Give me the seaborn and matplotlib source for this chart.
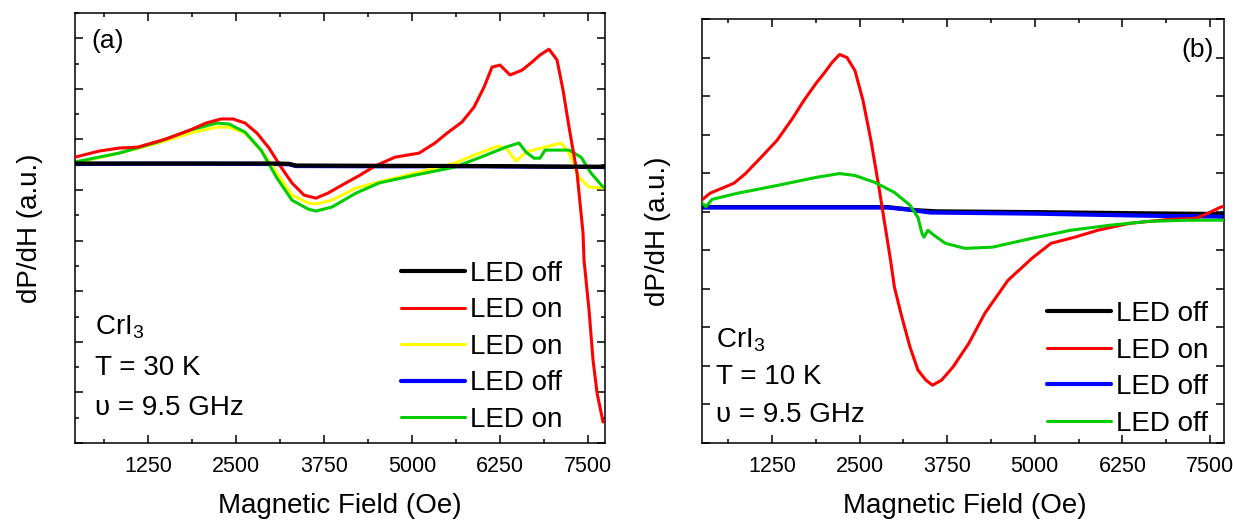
import numpy as np
import pandas as pd
import matplotlib
matplotlib.use("Agg")
import matplotlib.pyplot as plt
from matplotlib.ticker import MultipleLocator
import seaborn as sns

# ---------------- data: panel (a), T = 30 K ----------------
a_black_x = [213, 1000, 2000, 3000, 3250, 3350, 4500, 6000, 7000, 7741]
a_black_y = [0.05, 0.05, 0.05, 0.05, 0.04, -0.03, -0.04, -0.05, -0.07, -0.08]
a_blue_x = [213, 1000, 2000, 3000, 3250, 3350, 4500, 6000, 7000, 7741]
a_blue_y = [0.03, 0.04, 0.04, 0.03, 0.02, -0.05, -0.06, -0.06, -0.08, -0.09]

a_red_x = [213, 554, 838, 1108, 1506, 1847, 2074, 2287, 2457, 2628, 2798, 2969,
           3139, 3295, 3466, 3636, 3807, 4034, 4261, 4474, 4758, 5099, 5327,
           5497, 5710, 5881, 6023, 6136, 6250, 6392, 6562, 6705, 6818, 6946,
           7060, 7145, 7230, 7344, 7429, 7443, 7514, 7571, 7628, 7713]
a_red_y = [0.30, 0.54, 0.66, 0.70, 1.02, 1.37, 1.65, 1.81, 1.81, 1.65, 1.25, 0.66,
           -0.09, -0.72, -1.20, -1.32, -1.12, -0.76, -0.41, -0.05, 0.30, 0.46, 0.86,
           1.25, 1.69, 2.28, 3.07, 3.86, 3.94, 3.55, 3.74, 4.06, 4.34, 4.57,
           4.14, 2.95, 1.49, -0.33, -2.70, -3.77, -5.74, -7.72, -9.02, -10.17]

a_yellow_x = [213, 838, 1392, 1847, 2230, 2401, 2628, 2855, 3082, 3295, 3523, 3636,
              3864, 4205, 4531, 5043, 5611, 5881, 6222, 6335, 6477, 6619, 6889,
              7117, 7230, 7372, 7514, 7713]
a_yellow_y = [0.07, 0.46, 0.86, 1.25, 1.49, 1.49, 1.25, 0.58, -0.33, -1.20, -1.51, -1.55,
              -1.40, -0.92, -0.68, -0.33, 0.07, 0.38, 0.74, 0.66, 0.15, 0.50, 0.70,
              0.86, 0.46, -0.49, -0.88, -0.92]

a_green_x = [213, 838, 1392, 1847, 2230, 2401, 2628, 2855, 3082, 3295, 3523, 3636,
             3864, 4205, 4531, 5043, 5611, 6051, 6335, 6520, 6619, 6733, 6818,
             6889, 7230, 7401, 7543, 7713]
a_green_y = [0.11, 0.46, 0.90, 1.37, 1.65, 1.61, 1.29, 0.58, -0.53, -1.40, -1.75, -1.83,
             -1.67, -1.12, -0.72, -0.41, -0.09, 0.38, 0.70, 0.86, 0.50, 0.26, 0.26,
             0.58, 0.58, 0.30, -0.33, -0.88]

# ---------------- data: panel (b), T = 10 K ----------------
b_black_x = [246, 1500, 2900, 3300, 3600, 5000, 6500, 7727]
b_black_y = [0.12, 0.12, 0.12, 0.04, 0.01, -0.01, -0.04, -0.06]
b_blue_x = [246, 1500, 2900, 3219, 3500, 5000, 6500, 7727]
b_blue_y = [0.11, 0.11, 0.11, 0.05, -0.02, -0.05, -0.10, -0.13]

b_red_x = [246, 366, 537, 708, 872, 1093, 1321, 1542, 1706, 1878, 1992, 2106, 2214,
           2320, 2434, 2548, 2662, 2776, 2942, 2997, 3104, 3219, 3333, 3447, 3540,
           3669, 3832, 4060, 4289, 4617, 4959, 5230, 5572, 5900, 6357, 6913, 7299,
           7470, 7641, 7727]
b_red_y = [0.30, 0.48, 0.61, 0.74, 0.99, 1.41, 1.85, 2.42, 2.89, 3.33, 3.59, 3.87, 4.08,
           4.00, 3.66, 2.89, 1.85, 0.63, -1.26, -1.96, -2.74, -3.51, -4.11, -4.37, -4.50,
           -4.37, -4.03, -3.41, -2.63, -1.78, -1.21, -0.82, -0.66, -0.48, -0.30, -0.20, -0.17,
           -0.04, 0.11, 0.16]

b_green_x = [246, 308, 394, 759, 1321, 1878, 2214, 2434, 2719, 2997, 3219, 3333, 3390,
             3418, 3475, 3561, 3725, 4003, 4395, 4959, 5515, 6072, 6628, 7199, 7727]
b_green_y = [0.24, 0.13, 0.32, 0.48, 0.68, 0.89, 0.99, 0.94, 0.76, 0.50, 0.17, -0.15, -0.56,
             -0.66, -0.48, -0.61, -0.82, -0.95, -0.92, -0.69, -0.48, -0.35, -0.25, -0.22, -0.22]

x_ticks = [1250, 2500, 3750, 5000, 6250, 7500]
labels_a = ["LED off", "LED on", "LED on", "LED off", "LED on"]
labels_b = ["LED off", "LED on", "LED off", "LED off"]

BLACK, RED, YELLOW, BLUE, GREEN = "#000000", "#ff0000", "#ffff00", "#0000ff", "#00cc00"

sns.set_style("ticks")
plt.rcParams["font.family"] = ["Liberation Sans", "DejaVu Sans"]
plt.rcParams["mathtext.default"] = "regular"
plt.rcParams["text.color"] = "black"
plt.rcParams["axes.labelcolor"] = "black"
plt.rcParams["xtick.color"] = "black"
plt.rcParams["ytick.color"] = "black"

fig = plt.figure(figsize=(12.33, 5.2), dpi=100)
axA = fig.add_axes([75 / 1233, 1 - 443 / 520, 530 / 1233, 430 / 520])
axB = fig.add_axes([702 / 1233, 1 - 443 / 520, 522 / 1233, 424 / 520])


def draw(ax, x, y, color, label, lw, z):
    df = pd.DataFrame({"field": x, "signal": y})
    sns.lineplot(data=df, x="field", y="signal", color=color, label=label,
                 linewidth=lw, ax=ax, zorder=z, estimator=None, sort=False)


# panel (a)
draw(axA, a_black_x, a_black_y, BLACK, labels_a[0], 3.0, 5)
draw(axA, a_red_x, a_red_y, RED, labels_a[1], 2.2, 3)
draw(axA, a_yellow_x, a_yellow_y, YELLOW, labels_a[2], 2.2, 2)
draw(axA, a_blue_x, a_blue_y, BLUE, labels_a[3], 3.0, 1)
draw(axA, a_green_x, a_green_y, GREEN, labels_a[4], 2.2, 2.5)

# panel (b)
draw(axB, b_black_x, b_black_y, BLACK, labels_b[0], 3.0, 1)
draw(axB, b_red_x, b_red_y, RED, labels_b[1], 2.2, 3)
draw(axB, b_blue_x, b_blue_y, BLUE, labels_b[2], 3.0, 2)
draw(axB, b_green_x, b_green_y, GREEN, labels_b[3], 2.2, 4)

axA.set_xlim(213, 7741)
axA.set_ylim(-11, 6)
axB.set_xlim(251, 7700)
axB.set_ylim(-6, 5)

for ax in (axA, axB):
    ax.set_xticks(x_ticks)
    ax.xaxis.set_minor_locator(MultipleLocator(625))
    ax.tick_params(which="both", direction="in", top=True, right=True,
                   width=1.1, colors="black", labelsize=15.5, pad=9)
    ax.tick_params(which="major", length=6)
    ax.tick_params(which="minor", length=3)
    for s in ax.spines.values():
        s.set_linewidth(1.1)
        s.set_color("black")
    ax.set_xlabel("Magnetic Field (Oe)", fontsize=20, color="black")
    ax.set_ylabel("dP/dH (a.u.)", fontsize=20, color="black")

axA.yaxis.set_major_locator(MultipleLocator(2, offset=1))
axA.yaxis.set_minor_locator(MultipleLocator(1))
axB.yaxis.set_major_locator(MultipleLocator(1))
axB.yaxis.set_minor_locator(matplotlib.ticker.NullLocator())
axA.tick_params(axis="y", labelleft=False)
axB.tick_params(axis="y", labelleft=False)

axA.xaxis.set_label_coords(0.5, -0.116)
axB.xaxis.set_label_coords(0.504, -0.118)
axA.yaxis.set_label_coords(-0.06, 0.5)
axB.yaxis.set_label_coords(-0.06, 0.5)

# legends
leg_kw = dict(loc="upper left", frameon=False, fontsize=20, handlelength=2.3,
              handletextpad=0.2, labelspacing=0.38, borderpad=0, borderaxespad=0,
              labelcolor="black")
hA, lA = axA.get_legend_handles_labels()
axA.legend(hA, lA, bbox_to_anchor=(0.615, 0.424), **leg_kw)
hB, lB = axB.get_legend_handles_labels()
axB.legend(hB, lB, bbox_to_anchor=(0.661, 0.335), **leg_kw)

# annotations
for ax, temp, ys in ((axA, "T = 30 K", (0.270, 0.174, 0.081)),
                     (axB, "T = 10 K", (0.243, 0.156, 0.066))):
    x0 = 0.038 if ax is axA else 0.027
    ax.text(x0, ys[0], r"CrI$_\mathregular{3}$", transform=ax.transAxes,
            fontsize=20, va="center", ha="left", color="black")
    ax.text(x0, ys[1], temp, transform=ax.transAxes, fontsize=20, va="center",
            ha="left", color="black")
    ax.text(x0, ys[2], "\u03c5 = 9.5 GHz", transform=ax.transAxes, fontsize=20,
            va="center", ha="left", color="black")

axA.text(0.062, 0.935, "(a)", transform=axA.transAxes, fontsize=19, ha="center",
         va="center", color="black")
axB.text(0.950, 0.927, "(b)", transform=axB.transAxes, fontsize=19, ha="center",
         va="center", color="black")

fig.savefig("out.png", dpi=100)
